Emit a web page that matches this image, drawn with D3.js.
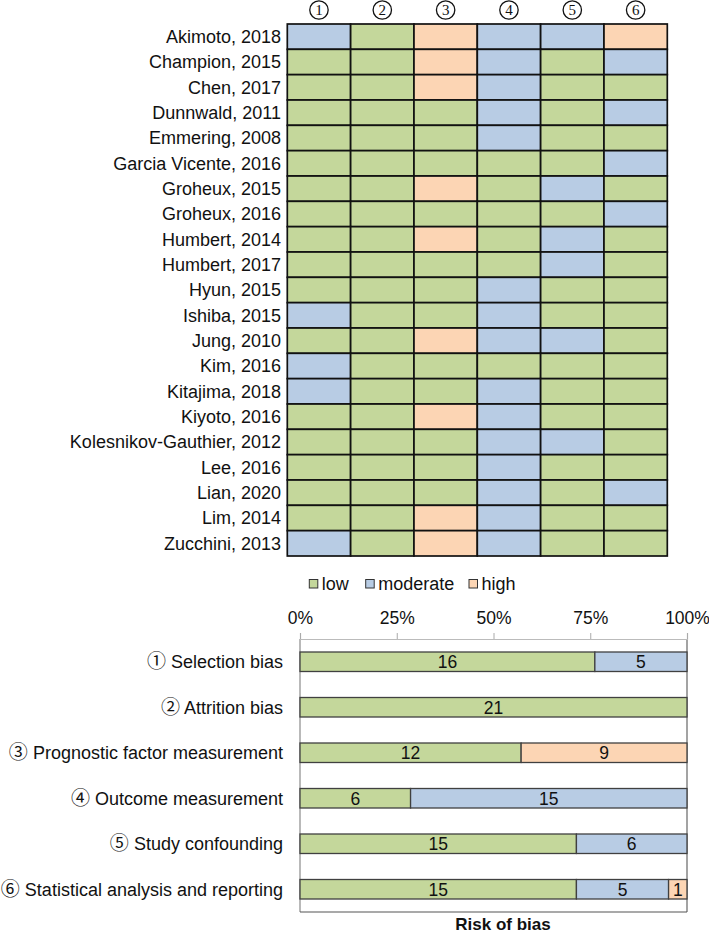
<!DOCTYPE html>
<html><head><meta charset="utf-8">
<script src="https://cdn.jsdelivr.net/npm/d3@7"></script>
<style>body{margin:0;background:#fff}svg{display:block}</style>
</head><body>
<script>
const studies = ["Akimoto, 2018","Champion, 2015","Chen, 2017","Dunnwald, 2011","Emmering, 2008","Garcia Vicente, 2016","Groheux, 2015","Groheux, 2016","Humbert, 2014","Humbert, 2017","Hyun, 2015","Ishiba, 2015","Jung, 2010","Kim, 2016","Kitajima, 2018","Kiyoto, 2016","Kolesnikov-Gauthier, 2012","Lee, 2016","Lian, 2020","Lim, 2014","Zucchini, 2013"];
// L = low, M = moderate, H = high ; one string per study, six domains
const ratings = ["MLHMMH","LLHMLM","LLHMLL","LLLMLM","LLLMLL","LLLLLM","LLHLML","LLLLLM","LLHLML","LLLLML","LLLMLL","MLLMLL","LLHMML","MLLLLL","MLLMLL","LLHMLL","LLLMML","LLLMLL","LLLMLM","LLHMLL","MLHMLL"];
const domainNumbers = ["1","2","3","4","5","6"];
const domainMarks = ["①","②","③","④","⑤","⑥"];
const domainNames = ["Selection bias","Attrition bias","Prognostic factor measurement","Outcome measurement","Study confounding","Statistical analysis and reporting"];
const levels = ["L","M","H"];
const levelNames = ["low","moderate","high"];
const tickValues = [0,0.25,0.5,0.75,1];

const colors = {L:"#c4d79b", M:"#b8cce4", H:"#fcd5b4"};
const FONT = "'Liberation Sans', Arial, sans-serif";
const SERIF = "'Liberation Serif', 'Times New Roman', serif";
const CJK = "'Noto Sans CJK JP', 'DejaVu Sans', sans-serif";

const svg = d3.select("body").append("svg").attr("width",709).attr("height",935);

// ---------- top grid ----------
const gx = d3.scaleBand().domain(d3.range(6)).range([287.3,667.3]);
const gy = d3.scaleBand().domain(studies).range([24,556]);

const grid = svg.append("g");
studies.forEach((s,i)=>{
  for(let j=0;j<6;j++){
    grid.append("rect").attr("x",gx(j)).attr("y",gy(s))
      .attr("width",gx.bandwidth()).attr("height",gy.bandwidth())
      .attr("fill",colors[ratings[i][j]]).attr("stroke","#111").attr("stroke-width",1.7);
  }
});
grid.selectAll("text.lab").data(studies).join("text").attr("class","lab")
  .attr("x",281).attr("y",d=>gy(d)+gy.bandwidth()/2).attr("dy","0.36em")
  .attr("text-anchor","end").attr("font-family",FONT).attr("font-size",18).attr("fill","#111")
  .text(d=>d);
// circled column headers
const hd = grid.selectAll("g.hd").data(domainNumbers).join("g").attr("class","hd")
  .attr("transform",(d,j)=>`translate(${gx(j)+gx.bandwidth()/2},10)`);
hd.append("circle").attr("r",9.2).attr("fill","none").attr("stroke","#111").attr("stroke-width",1.3);
hd.append("text").attr("text-anchor","middle").attr("dy","0.35em")
  .attr("font-family",SERIF).attr("font-size",15).attr("fill","#111").text(d=>d);

// ---------- legend ----------
const legX = [309.3,365.7,469];
const leg = svg.append("g");
levels.forEach((l,k)=>{
  leg.append("rect").attr("x",legX[k]).attr("y",579.5).attr("width",8.5).attr("height",8.5)
    .attr("fill",colors[l]).attr("stroke","#333").attr("stroke-width",1);
  leg.append("text").attr("x",legX[k]+12.5).attr("y",589.5)
    .attr("font-family",FONT).attr("font-size",18).attr("fill","#111").text(levelNames[k]);
});

// ---------- bottom stacked bars ----------
const counts = d3.range(6).map(j=>{
  const o = {domain:j};
  levels.forEach(l=>{o[l]=ratings.filter(r=>r[j]===l).length;});
  return o;
});
const total = studies.length;
const stack = d3.stack().keys(levels)(counts);

const x = d3.scaleLinear().domain([0,1]).range([300,687]);
const y = d3.scaleBand().domain(d3.range(6)).range([639,912]);
const barH = 19.5;

const b = svg.append("g");
// plot frame
b.append("line").attr("x1",x(0)).attr("x2",x(0)).attr("y1",639).attr("y2",912).attr("stroke","#8a8a8a").attr("stroke-width",1.2);
b.append("line").attr("x1",x(1)).attr("x2",x(1)).attr("y1",639).attr("y2",912).attr("stroke","#666").attr("stroke-width",1.2);
b.append("line").attr("x1",x(0)).attr("x2",x(1)).attr("y1",912).attr("y2",912).attr("stroke","#555").attr("stroke-width",1.2);

// axis on top
const axis = d3.axisTop(x).tickValues(tickValues).tickFormat(d3.format(".0%")).tickSize(6).tickPadding(9);
const ag = b.append("g").attr("transform","translate(0,639)").call(axis);
ag.select(".domain").attr("stroke","#bbb").attr("stroke-width",1.2);
ag.selectAll(".tick line").attr("stroke","#aaa");
ag.selectAll(".tick text").attr("font-family",FONT).attr("font-size",17.5).attr("fill","#111");

stack.forEach(layer=>{
  layer.forEach((seg,j)=>{
    const v = seg[1]-seg[0];
    if(v<=0) return;
    const x0 = x(seg[0]/total), x1 = x(seg[1]/total);
    const yc = y(j)+y.bandwidth()/2;
    b.append("rect").attr("x",x0).attr("y",yc-barH/2).attr("width",x1-x0).attr("height",barH)
      .attr("fill",colors[layer.key]).attr("stroke","#404040").attr("stroke-width",1.3);
    b.append("text").attr("x",(x0+x1)/2).attr("y",yc).attr("dy","0.37em")
      .attr("text-anchor","middle").attr("font-family",FONT).attr("font-size",17.5).attr("fill","#111")
      .text(v);
  });
});

// category labels
d3.range(6).forEach(j=>{
  const t = b.append("text").attr("x",283).attr("y",y(j)+y.bandwidth()/2).attr("dy","0.36em")
    .attr("text-anchor","end").attr("font-family",FONT).attr("font-size",18).attr("fill","#111");
  t.append("tspan").attr("font-family",CJK).attr("font-size",19).text(domainMarks[j]);
  t.append("tspan").text(" "+domainNames[j]);
});

svg.append("text").attr("x",503).attr("y",929.5).attr("text-anchor","middle")
  .attr("font-family",FONT).attr("font-weight","bold").attr("font-size",17).attr("fill","#111")
  .text("Risk of bias");
</script>
</body></html>
